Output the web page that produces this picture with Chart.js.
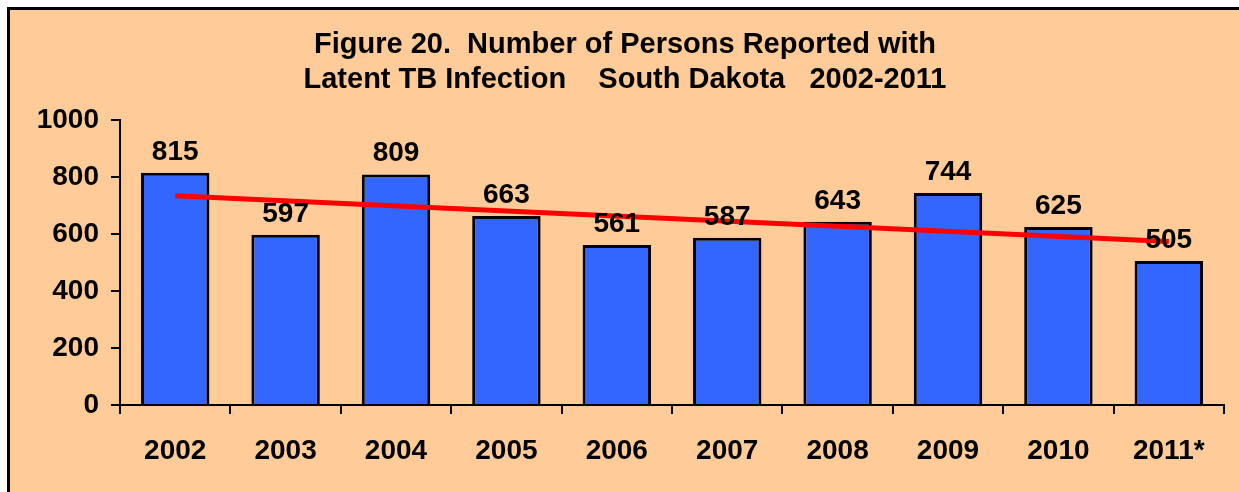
<!DOCTYPE html>
<html>
<head>
<meta charset="utf-8">
<script src="https://cdn.jsdelivr.net/npm/chart.js@4/dist/chart.umd.min.js"></script>
<style>
  html, body { margin: 0; padding: 0; background: #ffffff; }
  #wrap { width: 1239px; height: 492px; position: relative; }
</style>
</head>
<body>
<div id="wrap"><canvas id="tbChart" width="1239" height="492"></canvas></div>
<script>
// Daten aus der Grafik
var years = ["2002", "2003", "2004", "2005", "2006", "2007", "2008", "2009", "2010", "2011*"];
var persons = [815, 597, 809, 663, 561, 587, 643, 744, 625, 505];
var trend = [734, null, null, null, null, null, null, null, null, 574];   // Trendlinie, nur Anfang und Ende
var yTicks = [0, 200, 400, 600, 800, 1000];
var titleLines = ["Figure 20.\u00a0 Number of Persons Reported with", "Latent TB Infection\u00a0\u00a0\u00a0 South Dakota\u00a0\u00a0 2002-2011"];

var fontName = "'Liberation Sans', Arial, sans-serif";

// Hintergrund, Rahmen und Titel
var framePlugin = {
    id: "frame",
    beforeDraw: function(chart) {
        var ctx = chart.ctx;
        ctx.save();
        ctx.fillStyle = "#FFCC99";
        ctx.fillRect(8, 8, chart.width - 8, chart.height - 8);
        ctx.fillStyle = "#000000";
        ctx.fillRect(7, 7, chart.width - 7, 3);
        ctx.fillRect(7, 7, 3, chart.height - 7);
        ctx.font = "bold 29px " + fontName;
        ctx.textAlign = "center";
        ctx.textBaseline = "middle";
        ctx.fillText(titleLines[0], 625, 45);
        ctx.fillText(titleLines[1], 625, 80);
        ctx.restore();
    }
};

// Werte über den Balken
var labelPlugin = {
    id: "barLabels",
    afterDatasetsDraw: function(chart) {
        var ctx = chart.ctx;
        var meta = chart.getDatasetMeta(1);
        ctx.save();
        ctx.font = "bold 28px " + fontName;
        ctx.fillStyle = "#000000";
        ctx.textAlign = "center";
        ctx.textBaseline = "alphabetic";
        meta.data.forEach(function(bar, i) {
            ctx.fillText(persons[i], bar.x, bar.y - 13);
        });
        ctx.restore();
    }
};

var tbChart = new Chart(document.getElementById("tbChart"), {
    type: "bar",
    data: {
        labels: years,
        datasets: [{
            type: "line",
            data: trend,
            borderColor: "#FF0000",
            borderWidth: 5,
            pointRadius: 0,
            spanGaps: true,
            fill: false,
            order: 0
        }, {
            type: "bar",
            data: persons,
            backgroundColor: "#3366FF",
            borderColor: "#000000",
            borderWidth: 3,
            categoryPercentage: 1.0,
            barPercentage: 0.62,
            order: 1
        }]
    },
    options: {
        responsive: false,
        animation: false,
        layout: { padding: { left: 0, right: 15, top: 120, bottom: 0 } },
        plugins: {
            legend: { display: false },
            tooltip: { enabled: false },
            title: { display: false }
        },
        scales: {
            x: {
                grid: { drawOnChartArea: false, drawTicks: true, tickLength: 9, color: "#000000", lineWidth: 2 },
                border: { color: "#000000", width: 2 },
                ticks: { color: "#000000", font: { family: fontName, size: 28, weight: "bold" }, padding: 20, maxRotation: 0 },
                afterFit: function(scale) { scale.height = 87; }
            },
            y: {
                min: 0,
                max: 1000,
                afterBuildTicks: function(scale) {
                    scale.ticks = yTicks.map(function(v) { return { value: v }; });
                },
                grid: { drawOnChartArea: false, drawTicks: true, tickLength: 9, color: "#000000", lineWidth: 2 },
                border: { color: "#000000", width: 2 },
                ticks: {
                    color: "#000000",
                    font: { family: fontName, size: 28, weight: "bold" },
                    padding: 12,
                    callback: function(value) { return String(value); }
                },
                afterFit: function(scale) { scale.width = 120; }
            }
        }
    },
    plugins: [framePlugin, labelPlugin]
});
</script>
</body>
</html>
